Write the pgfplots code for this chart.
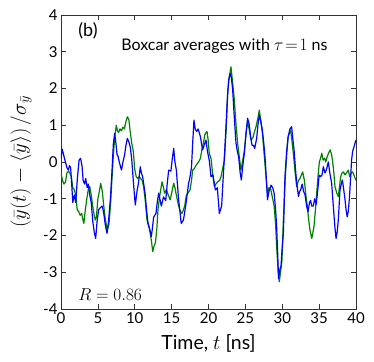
\documentclass[border=0pt]{standalone}
\usepackage{fontspec}
\setmainfont{Lato}
\usepackage{pgfplots}
\pgfplotsset{compat=1.18}
\definecolor{mplblue}{rgb}{0,0,1}
\definecolor{mplgreen}{rgb}{0,0.5,0}

\pgfplotstableread{
t v
0.0 0.1
0.15 0.35
0.35 0.2
0.6 0.0
0.8 -0.15
1.0 -0.22
1.15 -0.1
1.3 -0.15
1.45 -0.6
1.6 -1.1
1.8 -0.9
2.0 -1.1
2.2 -0.5
2.45 0.05
2.65 0.1
2.85 -0.1
3.0 -0.5
3.2 -0.6
3.35 -0.45
3.55 -0.7
3.7 -0.6
3.9 -0.9
4.1 -1.1
4.3 -1.6
4.5 -1.9
4.7 -2.08
4.9 -1.6
5.1 -1.3
5.3 -1.25
5.6 -1.2
5.8 -1.4
6.0 -1.7
6.24 -1.94
6.45 -1.6
6.7 -1.0
6.9 -0.3
7.1 0.5
7.28 0.78
7.45 0.5
7.6 0.2
7.75 0.15
7.9 0.0
8.2 -0.22
8.4 0.0
8.63 0.2
8.8 0.45
9.0 0.64
9.2 0.55
9.4 0.4
9.6 0.05
9.8 -0.5
10.0 -1.0
10.08 -1.17
10.3 -0.8
10.5 -0.58
10.75 -0.13
10.9 -0.3
11.07 -0.4
11.4 -0.85
11.6 -1.3
11.8 -1.67
12.0 -1.8
12.25 -2.03
12.45 -1.7
12.56 -1.5
12.88 -1.4
13.05 -1.1
13.24 -0.85
13.4 -1.0
13.6 -1.2
13.9 -0.95
14.2 -1.05
14.4 -0.6
14.6 -0.22
14.9 -0.25
15.1 0.1
15.28 0.37
15.45 0.0
15.64 -0.22
15.95 -1.03
16.1 -1.3
16.3 -1.67
16.6 -1.58
16.9 -1.2
17.1 -0.9
17.3 -0.58
17.5 -0.4
17.7 -0.13
17.85 0.5
18.03 1.14
18.2 0.9
18.4 0.83
18.6 0.9
18.9 0.69
19.05 0.5
19.2 0.33
19.4 0.45
19.66 0.6
19.85 0.3
20.1 0.05
20.34 -0.4
20.6 -0.35
20.93 -0.76
21.2 -0.7
21.47 -1.4
21.78 -1.2
22.0 -0.4
22.2 0.3
22.37 0.96
22.55 1.7
22.73 2.23
22.96 2.41
23.1 2.3
23.28 1.96
23.5 1.2
23.73 0.51
23.9 0.3
24.09 0.14
24.3 -0.3
24.45 -0.49
24.65 -0.1
24.86 0.24
25.1 0.8
25.3 1.19
25.54 1.01
25.7 0.7
25.9 0.46
26.1 0.45
26.26 0.37
26.53 0.64
26.7 1.0
26.89 1.28
27.1 1.1
27.3 0.87
27.5 0.5
27.7 0.05
27.85 -0.5
28.0 -1.03
28.2 -0.8
28.48 -0.63
28.7 -0.7
28.9 -0.85
29.1 -1.3
29.24 -1.76
29.4 -2.6
29.5 -3.17
29.7 -2.9
29.83 -2.85
30.0 -2.3
30.15 -1.94
30.37 -0.4
30.6 0.3
30.8 0.69
31.05 0.9
31.27 0.96
31.45 0.6
31.6 0.33
31.8 -0.2
31.96 -0.58
32.2 -0.94
32.35 -0.8
32.5 -0.76
32.7 -0.6
32.9 -0.8
33.1 -0.9
33.3 -1.2
33.5 -1.35
33.7 -1.1
33.85 -1.05
34.0 -1.2
34.2 -1.2
34.4 -1.0
34.6 -1.15
34.8 -0.8
35.0 -0.36
35.2 -0.4
35.4 -0.35
35.57 -0.13
35.8 -0.3
36.0 -0.2
36.25 0.0
36.45 -0.3
36.7 -0.58
36.85 -1.0
37.0 -1.4
37.15 -1.8
37.3 -2.08
37.45 -1.9
37.6 -1.58
37.83 -0.76
38.0 -0.6
38.15 -0.49
38.3 -0.7
38.5 -1.0
38.65 -1.3
38.8 -1.49
38.95 -1.35
39.1 -1.0
39.25 -0.5
39.4 0.05
39.55 0.3
39.73 0.41
39.85 0.5
40.0 0.6
}\bluedata

\pgfplotstableread{
t v
0.0 -0.3
0.2 -0.5
0.4 -0.6
0.6 -0.55
0.8 -0.3
1.0 -0.25
1.2 -0.3
1.4 -0.4
1.6 -0.7
1.8 -0.75
2.0 -0.9
2.2 -1.3
2.4 -1.35
2.6 -1.45
2.8 -1.4
3.0 -1.6
3.1 -1.67
3.3 -1.3
3.5 -1.0
3.7 -0.75
3.9 -0.67
4.1 -0.9
4.3 -1.2
4.5 -1.45
4.65 -1.58
4.8 -1.5
5.0 -1.0
5.2 -0.8
5.38 -0.58
5.6 -0.8
5.8 -1.2
6.0 -1.55
6.28 -1.85
6.5 -1.7
6.7 -1.2
6.9 -0.5
7.1 0.2
7.3 0.7
7.5 1.0
7.65 0.85
7.8 0.8
8.0 0.9
8.2 0.85
8.4 0.95
8.6 0.9
8.8 1.1
9.0 1.23
9.2 1.15
9.4 0.8
9.6 0.5
9.8 0.3
10.0 -0.2
10.2 -0.4
10.4 -0.45
10.6 -0.4
10.8 -0.45
11.0 -0.5
11.2 -0.67
11.4 -1.0
11.66 -1.58
11.9 -1.75
12.1 -1.94
12.3 -2.2
12.43 -2.44
12.6 -2.3
12.8 -2.2
13.0 -1.8
13.15 -1.3
13.4 -0.9
13.7 -0.54
13.9 -0.7
14.05 -0.85
14.3 -0.75
14.55 -0.9
14.8 -1.03
15.05 -0.8
15.28 -0.58
15.45 -0.7
15.64 -0.9
15.95 -1.2
16.2 -1.35
16.4 -1.4
16.6 -1.3
16.77 -1.2
17.0 -0.9
17.2 -0.85
17.5 -0.76
17.7 -0.5
17.85 -0.22
18.0 -0.2
18.2 -0.13
18.45 -0.05
18.67 0.0
18.9 0.1
19.1 0.33
19.3 0.5
19.5 0.74
19.66 0.8
19.8 0.83
19.95 0.6
20.1 0.24
20.34 0.1
20.55 -0.3
20.8 -0.67
21.0 -0.6
21.25 -0.54
21.5 -0.5
21.7 -0.4
21.9 -0.2
22.15 0.05
22.4 0.9
22.6 1.87
22.8 2.3
23.05 2.59
23.25 2.2
23.5 1.7
23.7 1.1
23.95 0.51
24.2 0.1
24.4 -0.22
24.6 0.0
24.86 0.3
25.1 0.8
25.3 1.1
25.5 0.9
25.76 0.6
26.0 0.65
26.2 0.8
26.44 0.96
26.7 1.2
26.89 1.41
27.1 1.1
27.3 0.8
27.55 0.2
27.8 -0.4
28.0 -0.85
28.2 -0.7
28.45 -0.75
28.7 -1.0
28.9 -1.2
29.1 -1.7
29.24 -2.3
29.45 -3.0
29.6 -3.26
29.8 -2.95
29.96 -2.67
30.15 -1.6
30.37 -0.58
30.6 0.2
30.8 0.69
31.0 0.8
31.14 0.87
31.3 0.6
31.5 0.24
31.75 -0.3
31.96 -0.67
32.2 -0.5
32.4 -0.45
32.6 -0.35
32.77 -0.27
33.0 -0.5
33.2 -0.9
33.4 -1.2
33.6 -1.6
33.76 -1.85
34.0 -2.08
34.3 -1.76
34.5 -1.3
34.67 -0.85
34.85 -0.4
35.03 0.0
35.2 0.1
35.35 0.24
35.55 0.05
35.75 0.1
35.9 0.0
36.1 0.15
36.3 0.25
36.5 0.33
36.7 0.2
36.84 0.0
37.0 -0.3
37.15 -0.67
37.4 -0.85
37.6 -0.94
37.75 -0.7
37.92 -0.4
38.1 -0.3
38.3 -0.27
38.5 -0.35
38.7 -0.3
38.96 -0.22
39.15 -0.4
39.35 -0.3
39.55 -0.27
39.8 -0.4
40.0 -0.5
}\greendata

\begin{document}
\begin{tikzpicture}
  \begin{axis}[
      scale only axis,
      width=295pt, height=294pt,
      xmin=0, xmax=40, ymin=-4, ymax=4,
      xtick={0,5,...,40},
      ytick={-4,-3,...,4},
      yticklabels={-4,-3,-2,-1,0,1,2,3,4},
      xticklabels={0,5,10,15,20,25,30,35,40},
      tick align=inside,
      major tick length=5pt,
      axis line style={black!80, line width=0.8pt},
      tick style={black!80, line width=0.6pt},
      tick label style={font=\fontsize{15}{17}\selectfont},
      xlabel={Time, $t$ [ns]},
      ylabel={$\left(\bar{y}(t)-\left\langle\bar{y}\right\rangle\right)/\sigma_{\bar{y}}$},
      xlabel style={font=\fontsize{19.5}{23}\selectfont,
        at={([yshift=-34pt]rel axis cs:0.5,0)}, anchor=center},
      ylabel style={font=\fontsize{20}{24}\selectfont,
        at={([xshift=-40pt]rel axis cs:0,0.5)}, anchor=center},
      clip=true,
  ]
    \addplot[mplgreen, line width=1.2pt, line join=round] table[x=t, y=v] {\greendata};
    \addplot[mplblue, line width=1.2pt, line join=round] table[x=t, y=v] {\bluedata};
    \node[anchor=west, font=\fontsize{18}{21}\selectfont] at (rel axis cs:0.047,0.945) {(b)};
    \node[font=\fontsize{16}{19}\selectfont] at (rel axis cs:0.554,0.895) {Boxcar averages with $\tau\!=\!1$ ns};
    \node[anchor=west, font=\fontsize{17}{20}\selectfont] at (rel axis cs:0.047,0.048) {$R=0.86$};
    \coordinate (bl) at (rel axis cs:0,0);
    \coordinate (tr) at (rel axis cs:1,1);
  \end{axis}
  \pgfresetboundingbox
  \path[use as bounding box] ([xshift=-61pt,yshift=-53pt]bl) rectangle ([xshift=18pt,yshift=15pt]tr);
\end{tikzpicture}
\end{document}
